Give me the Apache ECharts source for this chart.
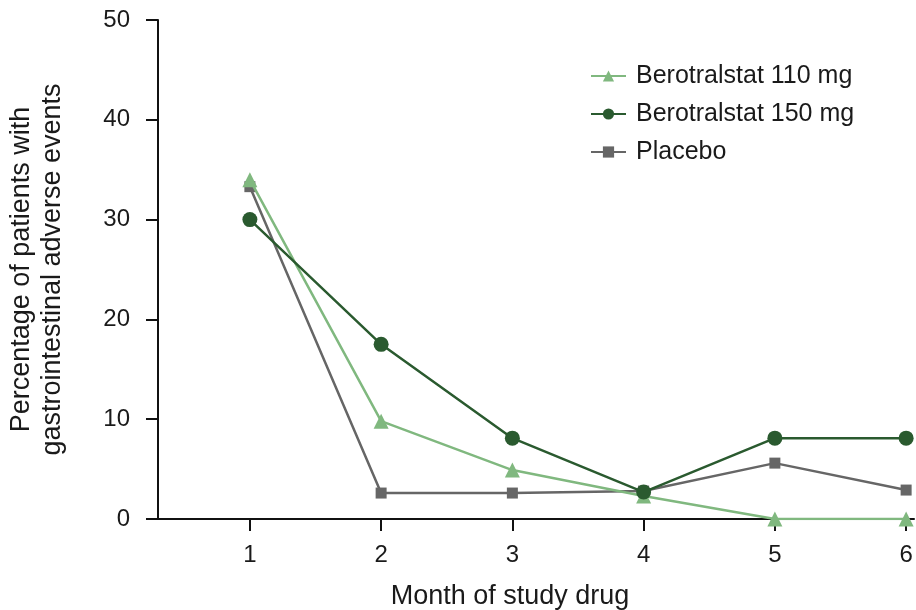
<!DOCTYPE html>
<html>
<head>
<meta charset="utf-8">
<script src="https://cdn.jsdelivr.net/npm/echarts@6/dist/echarts.min.js"></script>
<style>
  html, body { margin: 0; padding: 0; background: #fff; }
  #chart { width: 916px; height: 610px; }
</style>
</head>
<body>
<div id="chart"></div>
<script>
// Months on study drug
const months = [1, 2, 3, 4, 5, 6];
const monthTicks = [1, 2, 3, 4, 5, 6];
const percentTicks = [0, 10, 20, 30, 40, 50];

// Percentage of patients with gastrointestinal adverse events per month
const bero110 = [34.0, 9.8, 4.9, 2.3, 0, 0];
const bero150 = [30.0, 17.5, 8.1, 2.7, 8.1, 8.1];
const placebo = [33.3, 2.6, 2.6, 2.8, 5.6, 2.9];

const seriesNames = ['Berotralstat 110 mg', 'Berotralstat 150 mg', 'Placebo'];

const font = 'Liberation Sans, Arial, sans-serif';
const axisColor = '#111';
const textColor = '#1a1a1a';

function pairs(vals) {
  return months.map((m, i) => [m, vals[i]]);
}

const chart = echarts.init(document.getElementById('chart'));
chart.setOption({
  animation: false,
  textStyle: { fontFamily: font },
  grid: { left: 158, right: 2, top: 20, bottom: 91, containLabel: false, outerBoundsMode: 'none' },
  legend: {
    orient: 'vertical',
    left: 585,
    top: 57,
    itemWidth: 35,
    itemHeight: 14,
    itemGap: 10,
    textStyle: { fontSize: 25, lineHeight: 28, color: textColor, fontFamily: font, padding: [0, 0, 0, 5] },
    data: seriesNames
  },
  xAxis: {
    type: 'value',
    min: 0.3,
    max: 6.06,
    name: 'Month of study drug',
    nameLocation: 'middle',
    nameGap: 64,
    nameTextStyle: { fontSize: 27, color: textColor, padding: [0, 52, 0, 0] },
    axisLine: { lineStyle: { color: axisColor, width: 2 } },
    axisTick: { show: true, length: 12, lineStyle: { color: axisColor, width: 2 }, customValues: monthTicks },
    axisLabel: { fontSize: 24, color: textColor, margin: 24, customValues: monthTicks },
    splitLine: { show: false }
  },
  yAxis: {
    type: 'value',
    min: 0,
    max: 50,
    interval: 10,
    name: 'Percentage of patients with\ngastrointestinal adverse events',
    nameLocation: 'middle',
    nameGap: 90,
    nameRotate: 90,
    nameTextStyle: { fontSize: 27, color: textColor, lineHeight: 31 },
    axisLine: { show: true, onZero: false, lineStyle: { color: axisColor, width: 2 } },
    axisTick: { show: true, length: 12, lineStyle: { color: axisColor, width: 2 }, customValues: percentTicks },
    axisLabel: { fontSize: 24, color: textColor, margin: 28, customValues: percentTicks },
    splitLine: { show: false }
  },
  series: [
    {
      name: seriesNames[0],
      type: 'line',
      data: pairs(bero110),
      symbol: 'triangle',
      symbolSize: 15,
      z: 3,
      itemStyle: { color: '#80b87f' },
      lineStyle: { color: '#80b87f', width: 2.5 }
    },
    {
      name: seriesNames[1],
      type: 'line',
      data: pairs(bero150),
      symbol: 'circle',
      symbolSize: 15,
      z: 4,
      itemStyle: { color: '#2a5a2f' },
      lineStyle: { color: '#2a5a2f', width: 2.5 }
    },
    {
      name: seriesNames[2],
      type: 'line',
      data: pairs(placebo),
      symbol: 'rect',
      symbolSize: 11,
      z: 2,
      itemStyle: { color: '#666666' },
      lineStyle: { color: '#666666', width: 2.5 }
    }
  ]
});
</script>
</body>
</html>
